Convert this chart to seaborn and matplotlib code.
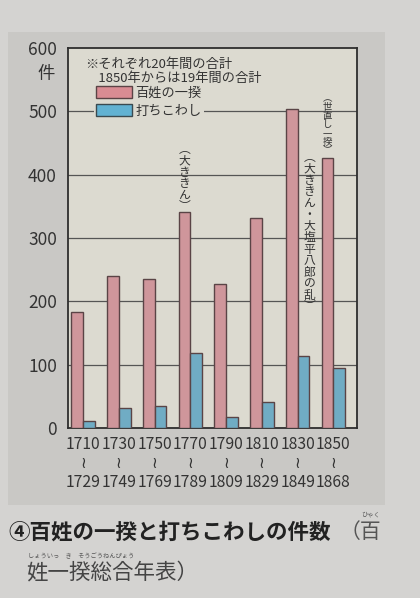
import pandas as pd
import matplotlib.pyplot as plt
import matplotlib.patches as mpatches
import seaborn as sns

# data (20-year totals)
periods = ["1710\n≀\n1729", "1730\n≀\n1749", "1750\n≀\n1769", "1770\n≀\n1789",
           "1790\n≀\n1809", "1810\n≀\n1829", "1830\n≀\n1849", "1850\n≀\n1868"]
ikki = [183, 240, 236, 341, 227, 332, 503, 426]
uchikowashi = [11, 31, 35, 119, 17, 41, 114, 95]
series_names = ["百姓の一揆", "打ちこわし"]
y_ticks = [0, 100, 200, 300, 400, 500, 600]

RED = "#d98c93"
BLUE = "#62b2d2"
PLOT_BG = "#dcdad0"
PANEL_BG = "#c9c8c5"
PAGE_BG = "#d4d3d1"
TEXT = "#333333"
GRID = "#555555"

sns.set_theme(style="white")
plt.rcParams["font.family"] = ["Noto Sans CJK JP", "DejaVu Sans"]

df = pd.DataFrame({
    "period": periods * 2,
    "count": ikki + uchikowashi,
    "kind": [series_names[0]] * len(periods) + [series_names[1]] * len(periods),
})

fig = plt.figure(figsize=(4.2, 5.98), dpi=100, facecolor=PAGE_BG)

# grey panel behind the chart
panel = mpatches.Rectangle((8 / 420, 1 - 505 / 598), 377 / 420, 473 / 598,
                           transform=fig.transFigure, facecolor=PANEL_BG,
                           edgecolor="none", zorder=-5)
fig.patches.append(panel)

ax = fig.add_axes([68 / 420, 1 - 428 / 598, 289 / 420, 380 / 598])
ax.set_zorder(2)
ax.set_facecolor(PLOT_BG)

sns.barplot(data=df, x="period", y="count", hue="kind",
            palette=[RED, BLUE], width=0.66, dodge=True,
            edgecolor="#5a4446", linewidth=1.0, legend=False, ax=ax, zorder=3)

ax.set_xlim(-0.42, 7.66)
ax.set_ylim(0, 600)
ax.set_yticks(y_ticks)
ax.set_yticklabels([str(v) for v in y_ticks], fontsize=12.5, color=TEXT)
for v in y_ticks[1:-1]:
    ax.axhline(v, color=GRID, linewidth=0.9, zorder=1)
ax.tick_params(axis="y", length=7, width=0.9, color=GRID, pad=1, direction="out")
ax.tick_params(axis="x", length=2.5, width=1.6, color=TEXT, pad=3, labelsize=11.3,
               labelcolor=TEXT)
for lab in ax.get_xticklabels():
    lab.set_linespacing(1.15)
ax.set_xlabel("")
ax.set_ylabel("")
for s in ax.spines.values():
    s.set_color("#2e2e2e")
    s.set_linewidth(1.3)

# unit under the 600 label
ax.text(-0.045, 0.955, "件", transform=ax.transAxes, ha="right", va="top",
        fontsize=12.5, color=TEXT)

# note and legend
ax.text(0.06, 0.975, "※それぞれ20年間の合計\n　1850年からは19年間の合計",
        transform=ax.transAxes, ha="left", va="top", fontsize=9.5, color=TEXT,
        linespacing=1.15, zorder=5)
handles = [mpatches.Patch(facecolor=RED, edgecolor="#5a4446", linewidth=1),
           mpatches.Patch(facecolor=BLUE, edgecolor="#3a4a50", linewidth=1)]
leg = ax.legend(handles, series_names, loc="upper left", bbox_to_anchor=(0.09, 0.905),
                frameon=True, facecolor=PLOT_BG, edgecolor="none", framealpha=1,
                fontsize=9.5, handlelength=2.7, handleheight=1.0, borderpad=0.15,
                labelspacing=0.35, handletextpad=0.3, borderaxespad=0)
leg.set_zorder(6)
for t in leg.get_texts():
    t.set_color(TEXT)


# vertical annotations, one character per line
def vtext(x, y, s, size=8.5, spacing=0.85):
    ax.text(x, y, "\n".join(s), ha="center", va="top", fontsize=size, color=TEXT,
            linespacing=spacing, zorder=5)


vtext(3 - 0.165, 450, "︵大ききん︶")
vtext(6 + 0.33, 438, "︵大ききん・大塩平八郎の乱︶")
vtext(7 - 0.165, 527, "︵世直し一揆︶", size=6.8, spacing=0.95)

# caption
fig.text(8 / 420, 1 - 532 / 598, "④百姓の一揆と打ちこわしの件数", fontsize=15.5,
         fontweight="bold", color="#222222", va="center", ha="left")
fig.text(340 / 420, 1 - 532 / 598, "（百", fontsize=15, color="#555555",
         va="center", ha="left")
fig.text(361 / 420, 1 - 514 / 598, "ひゃく", fontsize=4.5, color="#555555",
         va="center", ha="left")
fig.text(28 / 420, 1 - 556 / 598, "しょういっ　き　そうごうねんぴょう", fontsize=4.5,
         color="#555555", va="center", ha="left")
fig.text(26 / 420, 1 - 572 / 598, "姓一揆総合年表）", fontsize=15.5, color="#444444",
         va="center", ha="left")

fig.savefig("out.png", dpi=100, facecolor=fig.get_facecolor())
